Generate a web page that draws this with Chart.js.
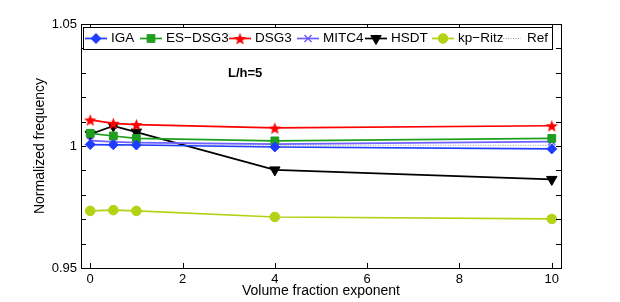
<!DOCTYPE html>
<html>
<head>
<meta charset="utf-8">
<script src="https://cdn.jsdelivr.net/npm/chart.js@4/dist/chart.umd.min.js"></script>
<style>
  html, body { margin: 0; padding: 0; background: #fff; }
  canvas { display: block; }
</style>
</head>
<body>
<canvas id="freqChart" width="620" height="302"></canvas>
<script>
// values
const volumeFraction = [0, 0.5, 1, 4, 10];
const iga    = [1.0006, 1.0005, 1.0004, 0.9996, 0.9988];
const esDsg3 = [1.0052, 1.0041, 1.0031, 1.0021, 1.0031];
const dsg3   = [1.0107, 1.0093, 1.0088, 1.0074, 1.0083];
const mitc4  = [1.0022, 1.0017, 1.0014, 1.0008, 1.0018];
const hsdt   = [1.0048, 1.0082, 1.0057, 0.9902, 0.9863];
const kpRitz = [0.9734, 0.9737, 0.9734, 0.9709, 0.9701];
const ref    = [1.0006, 1.0006, 1.0005, 1.0003, 1.0003];

const xTicks = [0, 2, 4, 6, 8, 10];
const yTicks = [0.95, 1, 1.05];
const yMinorStep = 0.01;

const FONT = 'Liberation Sans, Arial, Helvetica, sans-serif';

// where each legend entry starts (px)
const legendX = [85, 140, 229, 297, 365, 432, 503];

// filled five-point star for DSG3
function makeStar(color, r) {
    const c = document.createElement('canvas');
    const s = Math.ceil(r * 2 + 2);
    c.width = s; c.height = s;
    const g = c.getContext('2d');
    g.beginPath();
    for (let i = 0; i < 10; i++) {
        const rr = i % 2 === 0 ? r : r * 0.42;
        const a = -Math.PI / 2 + i * Math.PI / 5;
        const px = s / 2 + rr * Math.cos(a);
        const py = s / 2 + rr * Math.sin(a) + 0.8;
        if (i === 0) g.moveTo(px, py); else g.lineTo(px, py);
    }
    g.closePath();
    g.fillStyle = color;
    g.fill();
    return c;
}
const starImg = makeStar('#ff0000', 6.5);

function pts(arr) {
    return arr.map((v, i) => ({ x: volumeFraction[i], y: v }));
}

const datasets = [
    { label: 'IGA', data: pts(iga), borderColor: '#1f3dff', backgroundColor: '#1f3dff',
      pointStyle: 'rectRot', pointRadius: 5, borderWidth: 1.7, pointBorderWidth: 1 },
    { label: 'ES\u2212DSG3', data: pts(esDsg3), borderColor: '#1f9e1f', backgroundColor: '#1f9e1f',
      pointStyle: 'rect', pointRadius: 5.5, borderWidth: 1.7, pointBorderWidth: 1 },
    { label: 'DSG3', data: pts(dsg3), borderColor: '#ff0000', backgroundColor: '#ff0000',
      pointStyle: starImg, pointRadius: 6, borderWidth: 1.7, pointBorderWidth: 1 },
    { label: 'MITC4', data: pts(mitc4), borderColor: '#7060ff', backgroundColor: '#7060ff',
      pointStyle: 'crossRot', pointRadius: 5, borderWidth: 1.7, pointBorderWidth: 1.5 },
    { label: 'HSDT', data: pts(hsdt), borderColor: '#000000', backgroundColor: '#000000',
      pointStyle: 'triangle', rotation: 180, pointRotation: 180, pointRadius: 6, borderWidth: 1.7, pointBorderWidth: 1 },
    { label: 'kp\u2212Ritz', data: pts(kpRitz), borderColor: '#b2d214', backgroundColor: '#b2d214',
      pointStyle: 'circle', pointRadius: 4.8, borderWidth: 1.7, pointBorderWidth: 1 },
    { label: 'Ref', data: pts(ref), borderColor: '#9a9a9a', backgroundColor: '#9a9a9a',
      pointRadius: 0, borderWidth: 1, borderDash: [1, 1.5] }
];

// MATLAB style box, inward ticks, text and in-plot legend
const framePlugin = {
    id: 'frame',
    afterDraw(chart) {
        const ctx = chart.ctx;
        const area = chart.chartArea;
        const xs = chart.scales.x, ys = chart.scales.y;
        const tl = 5;
        ctx.save();
        ctx.strokeStyle = '#000';
        ctx.lineWidth = 1;
        ctx.beginPath();
        for (const v of xTicks) {
            const px = Math.round(xs.getPixelForValue(v)) + 0.5;
            ctx.moveTo(px, area.bottom); ctx.lineTo(px, area.bottom - tl);
            ctx.moveTo(px, area.top); ctx.lineTo(px, area.top + tl);
        }
        for (let v = 0.95; v <= 1.0501; v += yMinorStep) {
            const py = Math.round(ys.getPixelForValue(v)) + 0.5;
            ctx.moveTo(area.left, py); ctx.lineTo(area.left + tl, py);
            ctx.moveTo(area.right, py); ctx.lineTo(area.right - tl, py);
        }
        ctx.stroke();
        ctx.strokeRect(Math.round(area.left) + 0.5, Math.round(area.top) + 0.5,
            Math.round(area.right - area.left), Math.round(area.bottom - area.top));

        // annotation
        ctx.fillStyle = '#000';
        ctx.font = 'bold 13px ' + FONT;
        ctx.textBaseline = 'middle';
        ctx.textAlign = 'left';
        ctx.fillText('L/h=5', 228, 73);

        // legend box
        const lx = 83, ly = 27, lw = 469, lh = 22;
        ctx.fillStyle = '#fff';
        ctx.fillRect(lx, ly, lw, lh);
        ctx.strokeStyle = '#000';
        ctx.strokeRect(lx + 0.5, ly + 0.5, lw, lh);
        ctx.font = '13.5px ' + FONT;
        const cy = ly + lh / 2 + 0.5;
        chart.data.datasets.forEach((ds, i) => {
            const x = legendX[i];
            const lineLen = ds.pointRadius > 0 ? 22 : 18;
            ctx.save();
            ctx.strokeStyle = ds.borderColor;
            ctx.fillStyle = ds.backgroundColor;
            ctx.lineWidth = ds.borderWidth;
            if (ds.borderDash) ctx.setLineDash(ds.borderDash);
            ctx.beginPath();
            ctx.moveTo(x, cy); ctx.lineTo(x + lineLen, cy);
            ctx.stroke();
            ctx.setLineDash([]);
            if (ds.pointRadius > 0) {
                ctx.lineWidth = ds.pointBorderWidth;
                Chart.helpers.drawPoint(ctx, {
                    pointStyle: ds.pointStyle,
                    radius: ds.pointRadius,
                    rotation: ds.pointRotation || 0,
                    borderWidth: ds.pointBorderWidth
                }, x + lineLen / 2, cy);
            }
            ctx.restore();
            ctx.fillStyle = '#000';
            ctx.fillText(ds.label, x + lineLen + (ds.pointRadius > 0 ? 4 : 6), cy);
        });
        ctx.restore();
    }
};

new Chart(document.getElementById('freqChart'), {
    type: 'line',
    data: { datasets: datasets },
    options: {
        responsive: false,
        animation: false,
        layout: { padding: { top: 24, right: 59, left: 0, bottom: 0 } },
        plugins: { legend: { display: false }, tooltip: { enabled: false } },
        elements: { line: { tension: 0 } },
        scales: {
            x: {
                type: 'linear',
                min: -0.2,
                max: 10.2,
                afterBuildTicks: s => { s.ticks = xTicks.map(v => ({ value: v })); },
                afterFit: s => { s.height = 34; },
                grid: { display: false, drawTicks: false },
                border: { display: false },
                ticks: { color: '#000', padding: 4, font: { family: FONT, size: 13 } },
                title: { display: true, text: 'Volume fraction exponent', color: '#000',
                         padding: { top: 0, bottom: 2 }, font: { family: FONT, size: 14 } }
            },
            y: {
                min: 0.95,
                max: 1.05,
                afterBuildTicks: s => { s.ticks = yTicks.map(v => ({ value: v })); },
                afterFit: s => { s.width = 81; },
                grid: { display: false, drawTicks: false },
                border: { display: false },
                ticks: { color: '#000', padding: 4, font: { family: FONT, size: 13 },
                         callback: v => String(+v.toFixed(2)) },
                title: { display: true, text: 'Normalized frequency', color: '#000',
                         padding: { top: 32, bottom: 0 }, font: { family: FONT, size: 14 } }
            }
        }
    },
    plugins: [framePlugin]
});
</script>
</body>
</html>
